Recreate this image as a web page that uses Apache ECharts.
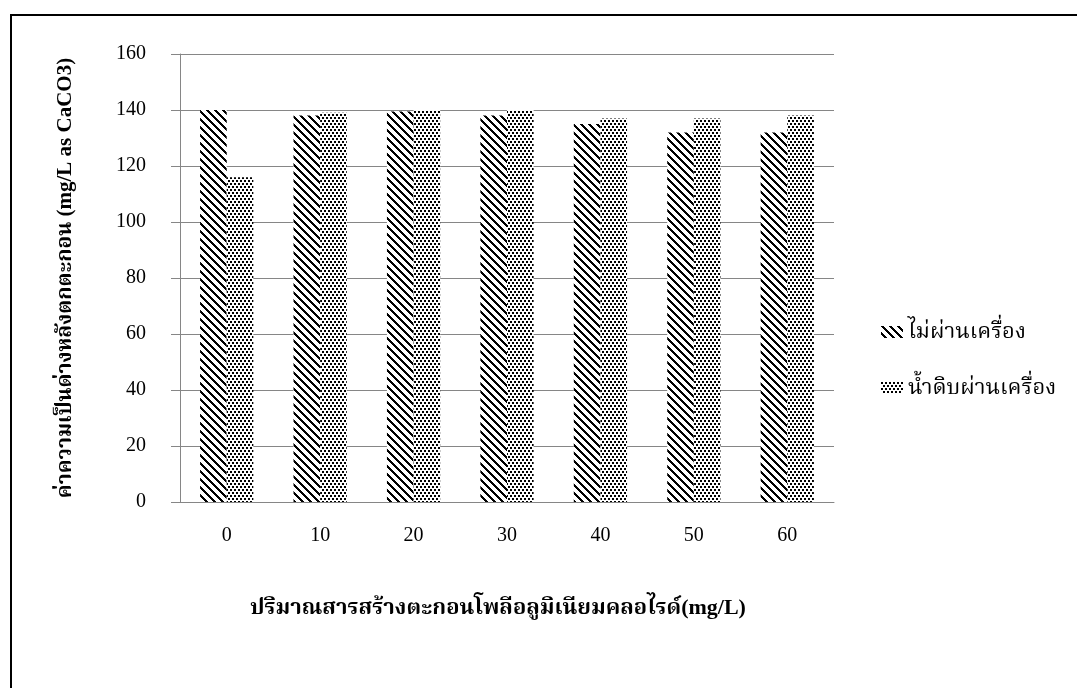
<!DOCTYPE html>
<html><head><meta charset="utf-8">
<script src="https://cdn.jsdelivr.net/npm/echarts@6/dist/echarts.min.js"></script>
<style>html,body{margin:0;padding:0;background:#fff}#c{width:1077px;height:688px}</style>
</head><body><div id="c"></div>
<script>
const categories = ['0', '10', '20', '30', '40', '50', '60'];
const seriesNames = ['ไม่ผ่านเครื่อง', 'น้ำดิบผ่านเครื่อง'];
const notPassed = [140, 138, 139.5, 138, 135, 132, 132];
const rawPassed = [116, 139, 140, 140, 137, 137, 138];
const yMin = 0, yMax = 160, yInterval = 20;
const yTitle = 'ค่าความเป็นด่างหลังตกตะกอน (mg/L as CaCO3)';
const xTitle = 'ปริมาณสารสร้างตะกอนโพลีอลูมิเนียมคลอไรด์(mg/L)';

const FONT = '"Liberation Serif", "Noto Serif Thai", "Noto Sans Thai", serif';

function hatchTile() {
  const c = document.createElement('canvas'); c.width = 8; c.height = 8;
  const ctx = c.getContext('2d');
  ctx.fillStyle = '#fff'; ctx.fillRect(0, 0, 8, 8);
  ctx.fillStyle = '#000';
  for (let y = 0; y < 8; y++) for (let x = 0; x < 8; x++) {
    if ((((x - y) % 8) + 8) % 8 < 3) ctx.fillRect(x, y, 1, 1);
  }
  return c;
}
function dotTile() {
  const c = document.createElement('canvas'); c.width = 8; c.height = 6;
  const ctx = c.getContext('2d');
  ctx.fillStyle = '#fff'; ctx.fillRect(0, 0, 8, 6);
  ctx.fillStyle = '#000';
  [[0, 0], [4, 0], [2, 3], [6, 3]].forEach(p => ctx.fillRect(p[0], p[1], 2, 2));
  return c;
}
const hatch = { image: hatchTile(), repeat: 'repeat' };
const dots = { image: dotTile(), repeat: 'repeat' };

const chart = echarts.init(document.getElementById('c'), null, { renderer: 'canvas' });
chart.setOption({
  animation: false,
  backgroundColor: '#fff',
  grid: { left: 180, right: 243, top: 54, bottom: 186, containLabel: false },
  legend: {
    orient: 'vertical', left: 876, top: 316, itemGap: 34,
    itemWidth: 22, itemHeight: 12, icon: 'rect', itemSymbolGap: 6,
    data: seriesNames,
    textStyle: { fontFamily: FONT, fontSize: 22, lineHeight: 22, color: '#000' }
  },
  xAxis: {
    type: 'category', data: categories,
    axisLine: { lineStyle: { color: '#868686', width: 1 } },
    axisTick: { show: false },
    axisLabel: { margin: 24, fontFamily: FONT, fontSize: 20, color: '#000' }
  },
  yAxis: {
    type: 'value', min: yMin, max: yMax, interval: yInterval,
    axisLine: { show: true, lineStyle: { color: '#868686', width: 1 } },
    axisTick: { show: true, length: 9, lineStyle: { color: '#868686' } },
    splitLine: { lineStyle: { color: '#868686', width: 1 } },
    axisLabel: { margin: 34, fontFamily: FONT, fontSize: 20, color: '#000' }
  },
  series: [
    { name: seriesNames[0], type: 'bar', data: notPassed, barGap: '0%', barCategoryGap: '43%', itemStyle: { color: hatch } },
    { name: seriesNames[1], type: 'bar', data: rawPassed, barGap: '0%', barCategoryGap: '43%', itemStyle: { color: dots } }
  ],
  graphic: [
    { type: 'rect', silent: true, shape: { x: 11, y: 15, width: 1200, height: 800 }, style: { fill: 'none', stroke: '#000', lineWidth: 2 } },
    { type: 'text', x: 66, y: 278, rotation: Math.PI / 2, style: { text: yTitle, font: 'bold 21px ' + FONT, align: 'center', verticalAlign: 'middle', fill: '#000' } },
    { type: 'text', x: 498, y: 608, style: { text: xTitle, font: 'bold 22px ' + FONT, align: 'center', verticalAlign: 'middle', fill: '#000' } }
  ]
});
</script>
</body></html>
